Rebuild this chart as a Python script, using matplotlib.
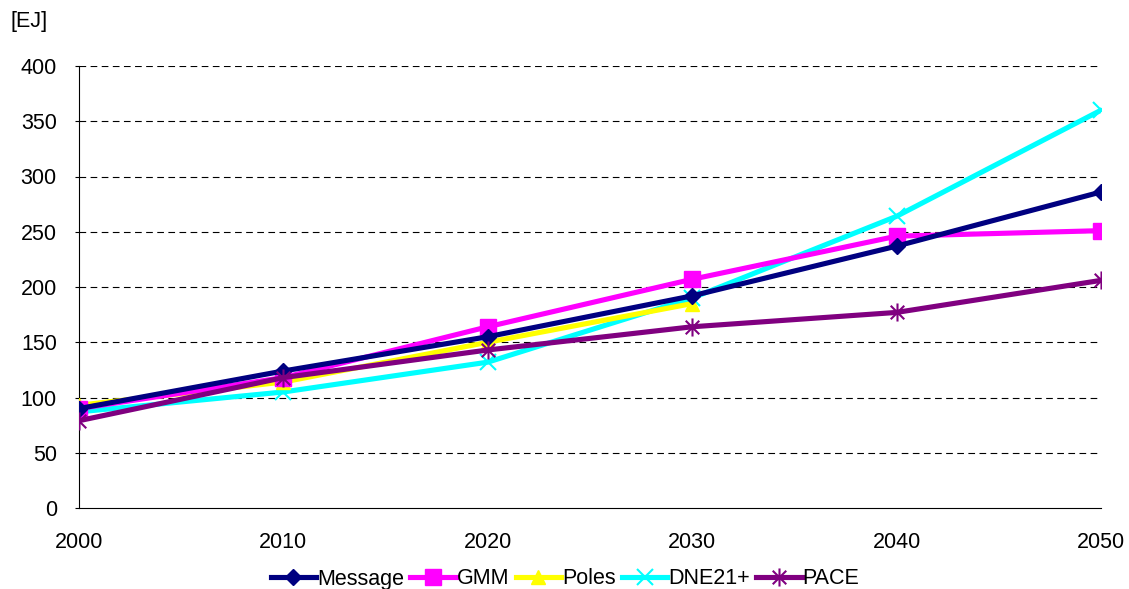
import matplotlib
matplotlib.use("Agg")
import matplotlib.pyplot as plt
from matplotlib.path import Path

plt.rcParams['font.family'] = ['Liberation Sans', 'DejaVu Sans']

years = [2000, 2010, 2020, 2030, 2040, 2050]
message = [90, 124, 155, 192, 237, 286]
gmm = [90, 118, 164, 207, 246, 251]
poles_years = [2000, 2010, 2020, 2030]
poles = [93, 114, 150, 185]
dne21 = [87, 105, 132, 190, 264, 360]
pace = [79, 118, 143, 164, 177, 206]
yticks = [0, 50, 100, 150, 200, 250, 300, 350, 400]

star = Path([(0, -1), (0, 1), (-0.75, -0.75), (0.75, 0.75), (-0.75, 0.75), (0.75, -0.75)],
            [Path.MOVETO, Path.LINETO, Path.MOVETO, Path.LINETO, Path.MOVETO, Path.LINETO])

fig = plt.figure(figsize=(11.29, 5.89), dpi=100)
ax = fig.add_axes([79/1129, 1-508/589, (1101-79)/1129, (508-66)/589])

lw = 3.7
fs = 15.5
ax.plot(years, message, color='#000080', lw=lw, marker='D', ms=8, label='Message', zorder=5)
ax.plot(years, gmm, color='#FF00FF', lw=lw, marker='s', ms=11, label='GMM', zorder=4)
ax.plot(poles_years, poles, color='#FFFF00', lw=lw, marker='^', ms=10, label='Poles', zorder=3)
ax.plot(years, dne21, color='#00FFFF', lw=lw, marker='x', ms=12, mew=1.5, label='DNE21+', zorder=2)
ax.plot(years, pace, color='#800080', lw=lw, marker=star, ms=13, mew=1.5, label='PACE', zorder=6)

ax.set_xlim(2000, 2050)
ax.set_ylim(0, 400)
ax.set_xticks(years)
ax.set_yticks(yticks)
for y in yticks[1:]:
    ax.axhline(y, color='black', lw=0.8, ls=(0, (6, 4)), zorder=0)
ax.spines['top'].set_visible(False)
ax.spines['right'].set_visible(False)
ax.spines['left'].set_color('black')
ax.spines['bottom'].set_color('black')
ax.tick_params(axis='y', length=3, direction='out', labelsize=fs, pad=13)
ax.tick_params(axis='x', length=0, labelsize=fs, pad=17)

fig.text(10/1129, 1-22/589, '[EJ]', fontsize=fs, va='center', ha='left')

leg = fig.legend(loc='center', bbox_to_anchor=(565/1129, 1-579/589), ncol=5, frameon=False,
                 fontsize=fs, handlelength=2.1, handletextpad=0.05, columnspacing=0.3)

fig.savefig('out.png', dpi=100)
